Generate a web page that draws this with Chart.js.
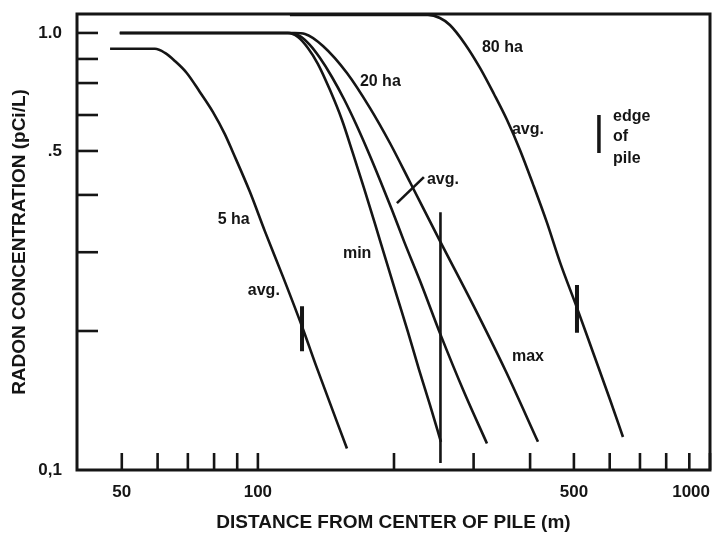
<!DOCTYPE html>
<html><head><meta charset="utf-8">
<script src="https://cdn.jsdelivr.net/npm/chart.js@4.4.1/dist/chart.umd.min.js"></script>
<style>html,body{margin:0;padding:0;background:#fff;}canvas{display:block;}</style>
</head><body>
<canvas id="c" width="717" height="534"></canvas>
<script>
// ---- axis ticks ----
const xTickValues = [50, 60, 70, 80, 90, 100, 200, 300, 400, 500, 600, 700, 800, 900, 1000];
const xTickLabels = {50: '50', 100: '100', 500: '500', 1000: '1000'};
const yTickValues = [0.1, 0.208, 0.315, 0.426, 0.537, 0.649, 0.768, 0.872, 1.0];
const yTickLabels = ['0,1', '', '', '', '.5', '', '', '', '1.0'];

// ---- curves: distance (m) / radon concentration (pCi/L) ----
const ha5X = [47.1, 59.2, 62.3, 65.5, 69.6, 74.4, 79.5, 84.5, 88.0, 96.0, 103.6, 113.6, 125.2, 135.1, 157.4];
const ha5Y = [0.92, 0.92, 0.900, 0.863, 0.810, 0.733, 0.660, 0.587, 0.534, 0.433, 0.352, 0.277, 0.213, 0.171, 0.112];

const ha20MinX = [49.5, 116.5, 122.6, 129.0, 135.8, 144.3, 153.4, 162.2, 171.6, 181.5, 192.0, 203.0, 214.7, 227.1, 240.2, 254.0];
const ha20MinY = [1.0, 1.0, 0.979, 0.924, 0.849, 0.741, 0.633, 0.531, 0.442, 0.366, 0.302, 0.250, 0.207, 0.170, 0.141, 0.116];

const ha20AvgX = [49.5, 117.7, 123.9, 130.3, 137.1, 145.8, 155.0, 164.8, 175.1, 186.2, 197.9, 210.4, 228.3, 254.0, 285.6, 321.1];
const ha20AvgY = [1.0, 1.0, 0.984, 0.939, 0.877, 0.793, 0.706, 0.619, 0.537, 0.461, 0.394, 0.334, 0.271, 0.203, 0.151, 0.115];

const ha20MaxX = [49.5, 120.7, 127.1, 139.3, 157.4, 176.9, 195.9, 216.9, 254.0, 299.0, 353.7, 416.4];
const ha20MaxY = [1.0, 1.0, 0.995, 0.934, 0.810, 0.674, 0.560, 0.456, 0.331, 0.239, 0.168, 0.116];

const ha80X = [117.7, 237.7, 252.7, 265.9, 287.1, 309.9, 332.8, 355.5, 379.9, 405.9, 435.9, 465.7, 507.9, 551.0, 600.8, 642.0];
const ha80Y = [1.1, 1.1, 1.082, 1.043, 0.944, 0.832, 0.725, 0.633, 0.540, 0.451, 0.368, 0.299, 0.235, 0.186, 0.145, 0.119];

// ---- edge-of-pile markers and leader ----
const edge5X = [125.2, 125.2], edge5Y = [0.237, 0.187];
const edge20X = [253.4, 253.4], edge20Y = [0.389, 0.1038];
const edge80X = [507.9, 507.9], edge80Y = [0.265, 0.206];
const keyMarkX = [568, 568], keyMarkY = [0.649, 0.531];
const leaderX = [203.0, 232.9], leaderY = [0.408, 0.468];

// ---- in-plot text ----
const noteText = ['5 ha', 'avg.', 'min', '20 ha', 'avg.', 'max', '80 ha', 'avg.', 'edge', 'of', 'pile'];
const noteX = [81.5, 95.0, 154.2, 168.1, 236.5, 364.7, 313.0, 364.7, 610.1, 610.1, 610.1];
const noteY = [0.375, 0.257, 0.312, 0.772, 0.463, 0.182, 0.924, 0.600, 0.642, 0.578, 0.515];

const X_MIN = 39.8, X_MAX = 1000, Y_MIN = 0.1, Y_MAX = 1.105;
const INK = '#151515';
const FAMILY = '"Liberation Sans", Arial, Helvetica, sans-serif';

function pts(xs, ys) { return xs.map((v, i) => ({x: v, y: ys[i]})); }
const curve = {showLine: true, pointRadius: 0, borderColor: INK, borderWidth: 2.6, cubicInterpolationMode: 'monotone', fill: false};
const mark = {showLine: true, pointRadius: 0, borderColor: INK, tension: 0, fill: false};

const decor = {
  id: 'decor',
  afterDatasetsDraw(chart) {
    const {ctx, chartArea: a, scales: {x, y}} = chart;
    ctx.save();
    ctx.strokeStyle = INK;
    ctx.lineWidth = 3;
    ctx.strokeRect(a.left, a.top, a.right - a.left, a.bottom - a.top);
    ctx.lineWidth = 2.6;
    xTickValues.forEach(v => {
      const px = x.getPixelForValue(v);
      ctx.beginPath(); ctx.moveTo(px, a.bottom); ctx.lineTo(px, a.bottom - 17); ctx.stroke();
    });
    yTickValues.forEach(v => {
      if (v <= Y_MIN) return;
      const py = y.getPixelForValue(v);
      ctx.beginPath(); ctx.moveTo(a.left, py); ctx.lineTo(a.left + 21, py); ctx.stroke();
    });
    ctx.fillStyle = INK;
    ctx.font = 'bold 16px ' + FAMILY;
    ctx.textAlign = 'left';
    ctx.textBaseline = 'middle';
    noteText.forEach((t, i) => ctx.fillText(t, x.getPixelForValue(noteX[i]), y.getPixelForValue(noteY[i])));
    ctx.restore();
  }
};

new Chart(document.getElementById('c'), {
  type: 'scatter',
  data: {
    datasets: [
      {label: '5 ha avg.', data: pts(ha5X, ha5Y), ...curve},
      {label: '20 ha min', data: pts(ha20MinX, ha20MinY), ...curve},
      {label: '20 ha avg.', data: pts(ha20AvgX, ha20AvgY), ...curve},
      {label: '20 ha max', data: pts(ha20MaxX, ha20MaxY), ...curve},
      {label: '80 ha avg.', data: pts(ha80X, ha80Y), ...curve},
      {label: 'edge of pile 5 ha', data: pts(edge5X, edge5Y), ...mark, borderWidth: 4},
      {label: 'edge of pile 20 ha', data: pts(edge20X, edge20Y), ...mark, borderWidth: 2.6},
      {label: 'edge of pile 80 ha', data: pts(edge80X, edge80Y), ...mark, borderWidth: 4},
      {label: 'edge of pile (key)', data: pts(keyMarkX, keyMarkY), ...mark, borderWidth: 3.5},
      {label: '20 ha avg. leader', data: pts(leaderX, leaderY), ...mark, borderWidth: 2.6}
    ]
  },
  options: {
    responsive: false,
    animation: false,
    layout: {padding: {left: 0, top: 14, right: 7, bottom: 0}},
    plugins: {legend: {display: false}, tooltip: {enabled: false}},
    scales: {
      x: {
        type: 'logarithmic', position: 'bottom', min: X_MIN, max: X_MAX,
        afterBuildTicks: s => { s.ticks = [X_MIN, ...xTickValues].map(v => ({value: v})); },
        afterFit: s => { s.height = 64; s.paddingLeft = 0; s.paddingRight = 0; },
        grid: {display: false, drawTicks: false},
        border: {display: false},
        ticks: {
          autoSkip: false, maxRotation: 0, minRotation: 0, align: 'inner', padding: 12,
          color: INK, font: {family: FAMILY, size: 17, weight: 'bold'},
          callback: v => xTickLabels[v] || ''
        },
        title: {display: true, text: 'DISTANCE FROM CENTER OF PILE (m)', color: INK,
          font: {family: FAMILY, size: 19, weight: 'bold'}, padding: {top: 0, bottom: 0}}
      },
      y: {
        type: 'logarithmic', position: 'left', min: Y_MIN, max: Y_MAX,
        afterBuildTicks: s => { s.ticks = yTickValues.map(v => ({value: v})); },
        afterFit: s => { s.width = 77; s.paddingTop = 0; s.paddingBottom = 0; },
        grid: {display: false, drawTicks: false},
        border: {display: false},
        ticks: {
          autoSkip: false, padding: 15,
          color: INK, font: {family: FAMILY, size: 17, weight: 'bold'},
          callback: (v, i) => yTickLabels[i] || ''
        },
        title: {display: true, text: 'RADON CONCENTRATION (pCi/L)', color: INK,
          font: {family: FAMILY, size: 19, weight: 'bold'}, padding: {top: 8, bottom: 0}}
      }
    }
  },
  plugins: [decor]
});
</script>
</body></html>
